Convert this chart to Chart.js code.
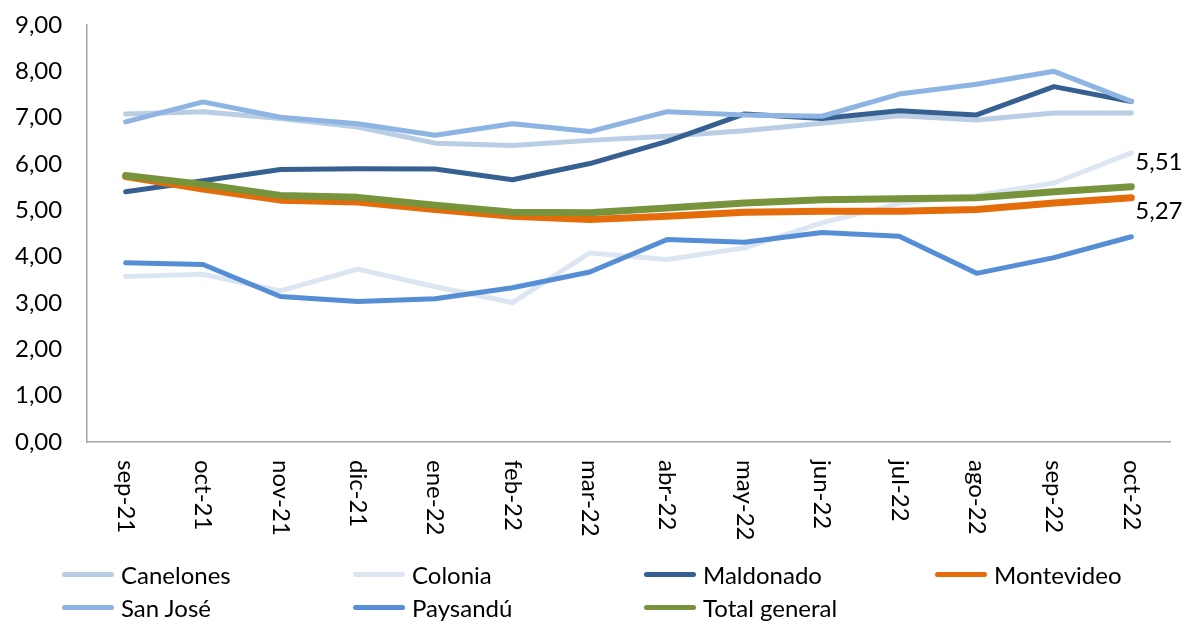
<!DOCTYPE html>
<html>
<head>
<meta charset="utf-8">
<script src="https://cdn.jsdelivr.net/npm/chart.js@4/dist/chart.umd.min.js"></script>
<style>
  html, body { margin: 0; padding: 0; background: #fff; }
  #wrap { position: relative; width: 1183px; height: 622px; overflow: hidden; }
  #c { position: absolute; left: 0; top: 0; }
  #legend { position: absolute; left: 62px; top: 558px; display: grid;
    grid-template-columns: repeat(4, 291px); grid-auto-rows: 33px;
    font-family: Lato, "Open Sans", sans-serif; font-size: 24px; color: #000; }
  .item { display: flex; align-items: center; white-space: nowrap; }
  .swatch { display: inline-block; width: 52px; height: 5px; border-radius: 3px; margin-right: 7px; }
</style>
</head>
<body>
<div id="wrap">
  <canvas id="c" width="1183" height="622"></canvas>
  <div id="legend"></div>
</div>
<script>
const categories = ['sep-21','oct-21','nov-21','dic-21','ene-22','feb-22','mar-22','abr-22','may-22','jun-22','jul-22','ago-22','sep-22','oct-22'];
const canelones  = [7.08,7.13,6.98,6.80,6.45,6.40,6.51,6.60,6.72,6.88,7.04,6.95,7.10,7.10];
const colonia    = [3.57,3.62,3.26,3.73,3.35,3.01,4.08,3.94,4.19,4.73,5.15,5.32,5.59,6.24];
const maldonado  = [5.40,5.64,5.88,5.90,5.89,5.66,6.01,6.49,7.08,6.98,7.15,7.06,7.67,7.35];
const montevideo = [5.73,5.46,5.22,5.18,5.02,4.87,4.80,4.87,4.96,4.98,4.98,5.02,5.16,5.27];
const sanJose    = [6.91,7.34,7.01,6.87,6.62,6.87,6.70,7.13,7.06,7.03,7.51,7.72,8.00,7.35];
const paysandu   = [3.87,3.83,3.14,3.03,3.09,3.33,3.67,4.37,4.31,4.52,4.44,3.64,3.98,4.43];
const totalGeneral = [5.75,5.56,5.32,5.28,5.11,4.96,4.95,5.05,5.16,5.23,5.25,5.27,5.40,5.51];
const yTicks = [0,1,2,3,4,5,6,7,8,9];

const FONT = 'Lato, "Open Sans", sans-serif';
const fmt = v => v.toFixed(2).replace('.', ',');

const series = [
  { label: 'Canelones', data: canelones, color: '#b9cde5', w: 5 },
  { label: 'Colonia', data: colonia, color: '#dce6f2', w: 5 },
  { label: 'Maldonado', data: maldonado, color: '#376092', w: 5 },
  { label: 'Montevideo', data: montevideo, color: '#e46c0a', w: 7, lastLabel: 'below' },
  { label: 'San José', data: sanJose, color: '#8eb4e3', w: 5 },
  { label: 'Paysandú', data: paysandu, color: '#558ed5', w: 5 },
  { label: 'Total general', data: totalGeneral, color: '#77933c', w: 7, lastLabel: 'above' }
];

const datasets = series.map((s, i) => ({
  label: s.label, data: s.data, borderColor: s.color, backgroundColor: s.color,
  borderWidth: s.w, pointRadius: 0, pointHoverRadius: 0, tension: 0, fill: false,
  borderCapStyle: 'round', borderJoinStyle: 'round', order: series.length - i
}));

const xLabelPlugin = {
  id: 'xLabels',
  afterDraw(chart) {
    const xs = chart.scales.x, ctx = chart.ctx;
    ctx.save();
    ctx.font = '24px ' + FONT;
    ctx.fillStyle = '#000';
    categories.forEach((lab, i) => {
      const x = xs.getPixelForValue(i);
      ctx.save();
      ctx.translate(x, xs.top + 18);
      ctx.rotate(Math.PI / 2);
      ctx.textAlign = 'left';
      ctx.textBaseline = 'middle';
      ctx.fillText(lab, 0, 0);
      ctx.restore();
    });
    ctx.restore();
  }
};

const dataLabelPlugin = {
  id: 'lastLabels',
  afterDatasetsDraw(chart) {
    const ctx = chart.ctx;
    ctx.save();
    ctx.font = '24px ' + FONT;
    ctx.fillStyle = '#000';
    ctx.textAlign = 'left';
    ctx.textBaseline = 'middle';
    series.forEach((s, i) => {
      if (!s.lastLabel) return;
      const meta = chart.getDatasetMeta(i);
      const last = meta.data.length - 1;
      const pt = meta.data[last];
      const dy = s.lastLabel === 'above' ? -24 : 13;
      ctx.fillText(fmt(s.data[last]), pt.x + 4, pt.y + dy);
    });
    ctx.restore();
  }
};

new Chart(document.getElementById('c'), {
  type: 'line',
  data: { labels: categories, datasets },
  options: {
    responsive: false, animation: false, devicePixelRatio: 1,
    layout: { padding: { left: 15, right: 13, top: 25, bottom: 80 } },
    plugins: { legend: { display: false }, tooltip: { enabled: false } },
    scales: {
      x: {
        offset: true,
        grid: { display: false, drawTicks: false },
        border: { display: true, color: '#a6a6a6', width: 1.5 },
        ticks: { display: false },
        afterFit(s) { s.height = 100; }
      },
      y: {
        min: 0, max: 9,
        afterBuildTicks(s) { s.ticks = yTicks.map(v => ({ value: v })); },
        grid: { display: false, drawTicks: false },
        border: { display: true, color: '#a6a6a6', width: 1.5 },
        ticks: { padding: 0, crossAlign: 'far', color: '#000', font: { family: FONT, size: 24 },
                 callback: v => fmt(v) },
        afterFit(s) { s.width = 72; }
      }
    }
  },
  plugins: [xLabelPlugin, dataLabelPlugin]
});

const legend = document.getElementById('legend');
series.forEach(s => {
  const it = document.createElement('div');
  it.className = 'item';
  const sw = document.createElement('span');
  sw.className = 'swatch';
  sw.style.background = s.color;
  it.appendChild(sw);
  it.appendChild(document.createTextNode(s.label));
  legend.appendChild(it);
});
</script>
</body>
</html>
